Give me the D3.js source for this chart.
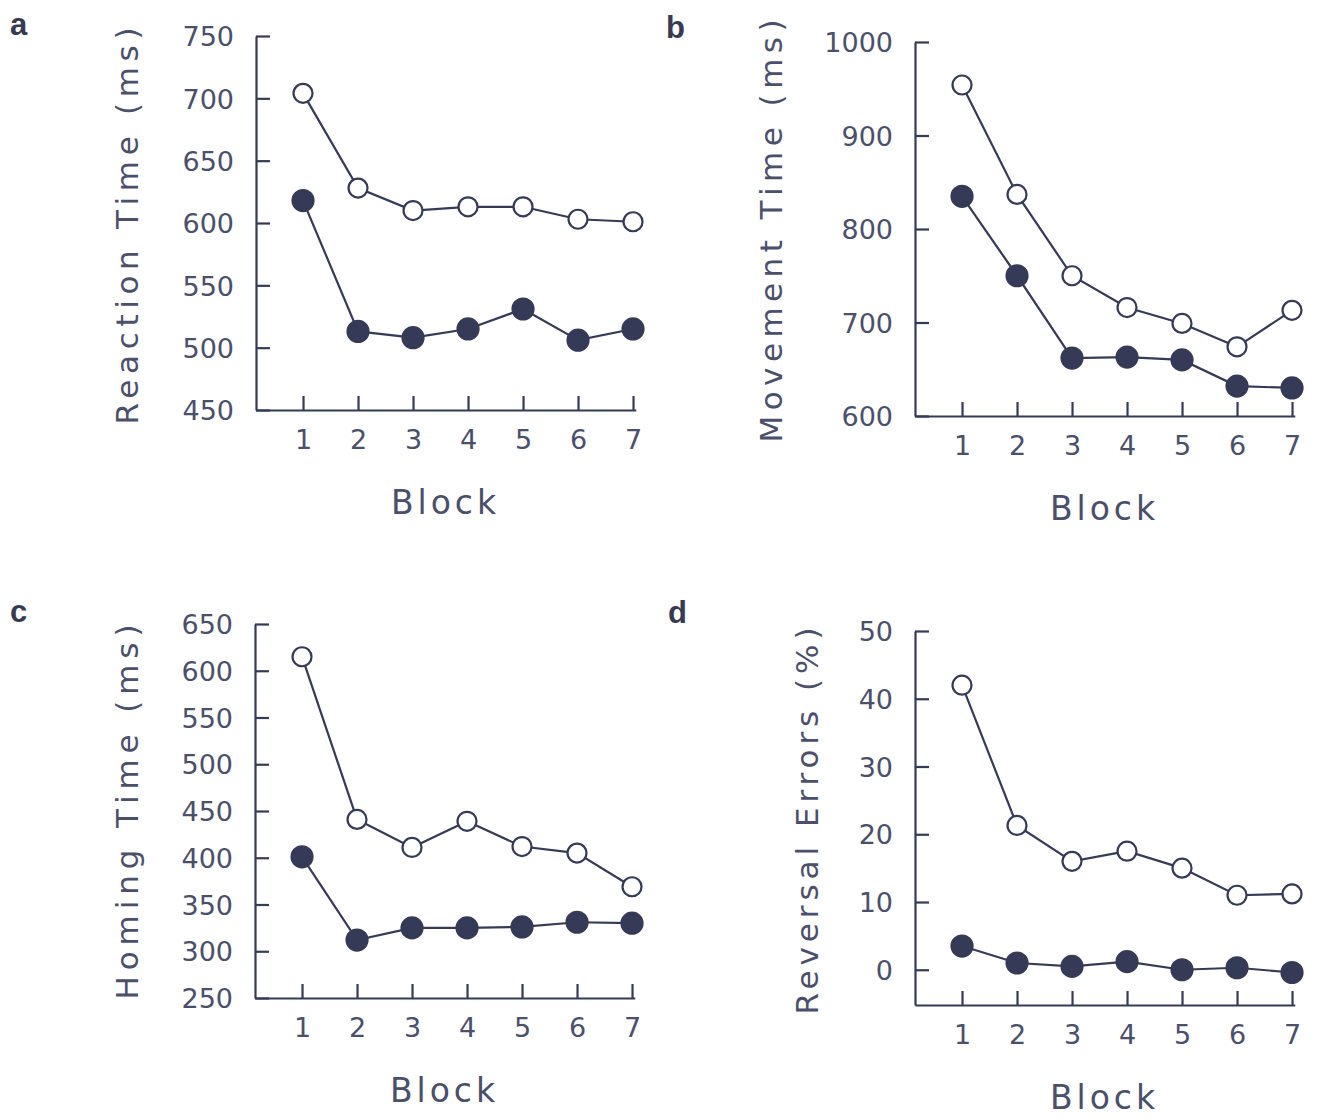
<!DOCTYPE html>
<html>
<head>
<meta charset="utf-8">
<script src="https://cdn.jsdelivr.net/npm/d3@7"></script>
<style>
  body { margin: 0; background: #fff; }
  .axis path, .axis line { stroke: #353a57; stroke-width: 2.2px; }
  .axis text { fill: #4a4f6b; font-family: "DejaVu Sans", sans-serif; font-size: 27px; }
  .label { fill: #4a4f6b; font-family: "DejaVu Sans", sans-serif; }
  .panel-letter { fill: #363a52; font-family: "Liberation Sans", Arial, sans-serif; font-weight: bold; font-size: 31px; }
</style>
</head>
<body>
<svg width="1321" height="1119"></svg>
<script>
// values (open circles = upper series, filled = lower series)
const blocks = [1, 2, 3, 4, 5, 6, 7];

const rtOpen   = [704, 628, 610, 613, 613, 603, 601];
const rtFilled = [618, 513, 508, 515, 531, 506, 515];

const mtOpen   = [954, 837, 750, 716, 699, 674, 713];
const mtFilled = [835, 750, 662, 663, 660, 632, 630];

const htOpen   = [615, 441, 411, 439, 412, 405, 369];
const htFilled = [401, 312, 325, 325, 326, 331, 330];

const reOpen   = [42, 21.3, 16, 17.5, 15, 11, 11.2];
const reFilled = [3.5, 1, 0.5, 1.2, 0, 0.3, -0.4];

const rtTicks = [450, 500, 550, 600, 650, 700, 750];
const mtTicks = [600, 700, 800, 900, 1000];
const htTicks = [250, 300, 350, 400, 450, 500, 550, 600, 650];
const reTicks = [0, 10, 20, 30, 40, 50];

const svg = d3.select("svg");

// layout of the four panels
const panels = [
  {letter: "a", lx: 10, ly: 35, ax: 256, top: 36, bottom: 410, domain: [450, 750], ticks: rtTicks,
   open: rtOpen, filled: rtFilled, ylabel: "Reaction Time (ms)", labX: 138, labY: 226, labLen: 397},
  {letter: "b", lx: 666, ly: 38, ax: 915, top: 42, bottom: 416, domain: [600, 1000], ticks: mtTicks,
   open: mtOpen, filled: mtFilled, ylabel: "Movement Time (ms)", labX: 782, labY: 231, labLen: 423},
  {letter: "c", lx: 10, ly: 622, ax: 255, top: 624, bottom: 998, domain: [250, 650], ticks: htTicks,
   open: htOpen, filled: htFilled, ylabel: "Homing Time (ms)", labX: 138, labY: 812, labLen: 375},
  {letter: "d", lx: 668, ly: 623, ax: 915, top: 631, bottom: 1005, domain: [-5.2, 50], ticks: reTicks,
   open: reOpen, filled: reFilled, ylabel: "Reversal Errors (%)", labX: 818, labY: 821, labLen: 387}
];

const step = 55;

panels.forEach(p => {
  const x = d3.scaleLinear()
    .domain([0.145, 7.05])
    .range([p.ax, p.ax + step * (7.05 - 0.145)]);
  const y = d3.scaleLinear().domain(p.domain).range([p.bottom, p.top]);

  svg.append("text")
    .attr("class", "panel-letter")
    .attr("x", p.lx)
    .attr("y", p.ly)
    .text(p.letter);

  // y axis, ticks pointing inward
  svg.append("g")
    .attr("class", "axis")
    .attr("transform", `translate(${p.ax},0)`)
    .call(d3.axisLeft(y).tickValues(p.ticks).tickSize(-14).tickSizeOuter(0).tickPadding(22).tickFormat(d3.format("d")))
    .selectAll("text")
      .attr("dy", "0.36em");

  // x axis
  svg.append("g")
    .attr("class", "axis")
    .attr("transform", `translate(0,${p.bottom})`)
    .call(d3.axisBottom(x).tickValues(blocks).tickSize(-14).tickSizeOuter(0).tickPadding(20).tickFormat(d3.format("d")));

  svg.append("text")
    .attr("class", "label")
    .attr("transform", `translate(${p.labX},${p.labY}) rotate(-90)`)
    .attr("text-anchor", "middle")
    .attr("textLength", p.labLen)
    .attr("lengthAdjust", "spacing")
    .style("font-size", "31px")
    .text(p.ylabel);

  svg.append("text")
    .attr("class", "label")
    .attr("x", x(4) - 77)
    .attr("y", p.bottom + 104)
    .attr("textLength", 105)
    .attr("lengthAdjust", "spacing")
    .style("font-size", "33px")
    .text("Block");

  const line = d3.line()
    .x((d, i) => x(blocks[i]))
    .y(d => y(d));

  [p.filled, p.open].forEach((vals, k) => {
    svg.append("path")
      .datum(vals)
      .attr("d", line)
      .attr("fill", "none")
      .attr("stroke", "#353a57")
      .attr("stroke-width", 2.2);

    svg.selectAll(null)
      .data(vals)
      .enter().append("circle")
        .attr("cx", (d, i) => x(blocks[i]))
        .attr("cy", d => y(d))
        .attr("r", k === 0 ? 10.5 : 9.5)
        .attr("fill", k === 0 ? "#353a57" : "#fff")
        .attr("stroke", "#353a57")
        .attr("stroke-width", 2.2);
  });
});
</script>
</body>
</html>
